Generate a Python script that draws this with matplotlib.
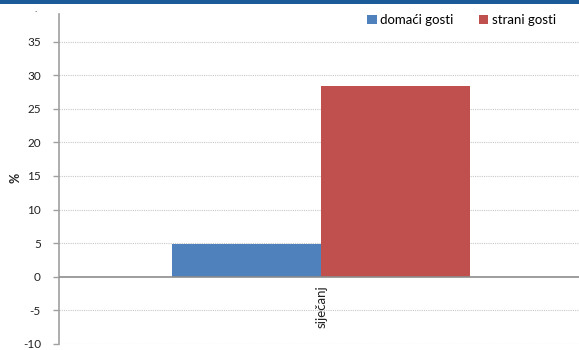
import matplotlib
matplotlib.use("Agg")
import matplotlib.pyplot as plt
from matplotlib.patches import Rectangle

categories = ["siječanj"]
series_names = ["domaći gosti", "strani gosti"]
domaci = [4.85]
strani = [28.4]
y_ticks = [-10, -5, 0, 5, 10, 15, 20, 25, 30, 35]

colors = ["#4f81bd", "#c0504d"]
plt.rcParams["font.family"] = ["Lato", "DejaVu Sans"]

fig = plt.figure(figsize=(5.79, 3.5), dpi=100)
fig.patch.set_facecolor("white")

# header strip
fig.add_artist(Rectangle((0, 1 - 4 / 350), 1, 4 / 350, transform=fig.transFigure,
                         facecolor="#1c5b98", edgecolor="none"))

ax = fig.add_axes([59 / 579, 6 / 350, 1 - 59 / 579, (344 - 14) / 350])
ax.set_ylim(-10, 39.1)
ax.set_xlim(-0.504, 0.496)

w = 149 / 520
x = list(range(len(categories)))
ax.bar([xi - w / 2 for xi in x], domaci, width=w, color=colors[0], label=series_names[0], zorder=3)
ax.bar([xi + w / 2 for xi in x], strani, width=w, color=colors[1], label=series_names[1], zorder=3)

ax.set_yticks(y_ticks)
ax.set_yticklabels([str(t) for t in y_ticks], fontsize=8.5, color="#222222")
for t in y_ticks:
    if t != 0:
        ax.axhline(t, color="#c8c8c8", lw=0.8, ls=(0, (1, 1)), zorder=1)
ax.axhline(0, color="#8c8c8c", lw=1.2, zorder=4)

ax.set_xticks([])
for xi, c in zip(x, categories):
    ax.annotate(c, xy=(xi, 0), xytext=(0, -6), textcoords="offset points",
                rotation=90, ha="center", va="top", fontsize=9.5, color="#222222")

for s in ["top", "right", "bottom"]:
    ax.spines[s].set_visible(False)
ax.spines["left"].set_color("#a0a0a0")
ax.spines["left"].set_linewidth(1.2)
ax.tick_params(axis="y", length=4, width=1, color="#a0a0a0", pad=9)

fig.text(15 / 579, 1 - 178 / 350, "%", rotation=90, ha="center", va="center",
         fontsize=9, fontweight="bold", color="#222222")
fig.text(36 / 579, 1 - 14 / 350, ".", ha="center", va="bottom", fontsize=7, color="#222222")

ax.legend(loc="upper left", bbox_to_anchor=((362 - 59) / 520, 1.016), ncol=2, frameon=False,
          fontsize=9.5, handlelength=0.7, handleheight=0.7, handletextpad=0.3,
          columnspacing=1.9, borderaxespad=0.0)

fig.savefig("out.png", dpi=100, facecolor="white")
